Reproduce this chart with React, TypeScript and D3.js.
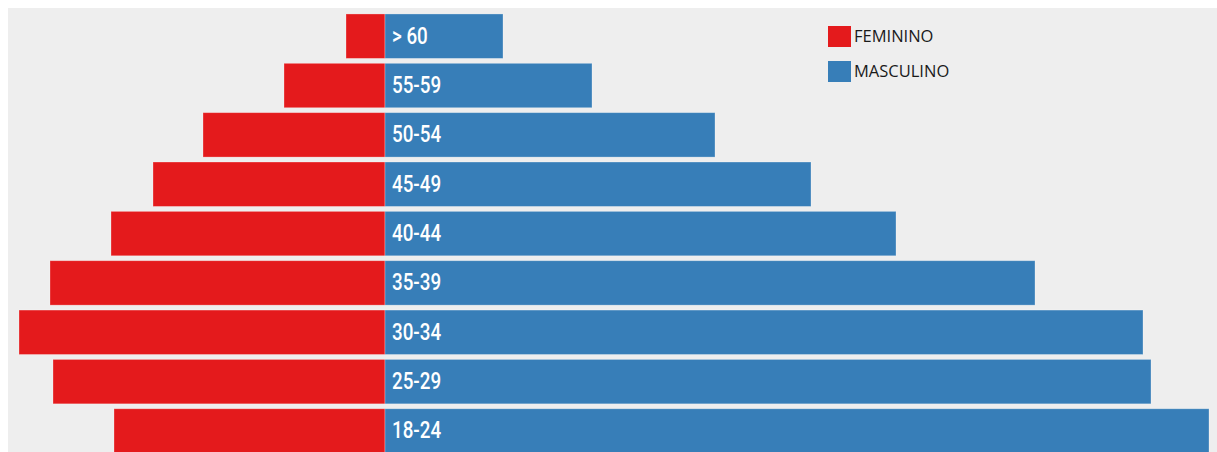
import React from "react";
import * as d3 from "d3";

const ageGroups = ["> 60", "55-59", "50-54", "45-49", "40-44", "35-39", "30-34", "25-29", "18-24"];
const femaleValues = [39, 101, 182, 232, 274, 335, 366, 332, 271];
const maleValues = [118, 207, 330, 426, 511, 650, 758, 766, 824];
const legendLabels = ["FEMININO", "MASCULINO"];
const colors = ["#e41a1c", "#377eb8"];

const W = 1217;
const H = 452;

export default function App() {
  const x = d3.scaleLinear().domain([-400, 850]).range([-15, 1235]);
  const y = d3
    .scaleBand<string>()
    .domain(ageGroups)
    .range([11.5, 11.5 + 49.35 * 9])
    .paddingInner(0.1)
    .paddingOuter(0.05);
  const bw = y.bandwidth();

  return (
    <div style={{ position: "fixed", left: 0, top: 0, width: W, height: H }}>
      <svg width={W} height={H} style={{ display: "block" }}>
        <defs>
          <clipPath id="plot">
            <rect x={8} y={8} width={W - 8} height={H - 8} />
          </clipPath>
        </defs>
        <rect x={0} y={0} width={W} height={H} fill="#ffffff" />
        <rect x={8} y={8} width={W - 8} height={H - 8} fill="#eeeeee" />
        <g clipPath="url(#plot)">
          {ageGroups.map((g, i) => {
            const yy = y(g) as number;
            return (
              <g key={g}>
                <rect
                  x={x(-femaleValues[i])}
                  y={yy}
                  width={x(0) - x(-femaleValues[i])}
                  height={bw}
                  fill={colors[0]}
                  stroke="rgba(255,255,255,0.35)"
                  strokeWidth={0.8}
                />
                <rect
                  x={x(0)}
                  y={yy}
                  width={x(maleValues[i]) - x(0)}
                  height={bw}
                  fill={colors[1]}
                  stroke="rgba(255,255,255,0.35)"
                  strokeWidth={0.8}
                />
                <text
                  transform={`translate(${x(0) + 7}, ${yy + bw / 2 + 7.5}) scale(0.8, 1)`}
                  fill="#ffffff"
                  fontFamily="Roboto, sans-serif"
                  fontWeight={500}
                  fontSize={23.5}
                >
                  {g}
                </text>
              </g>
            );
          })}
        </g>
        {legendLabels.map((l, i) => (
          <g key={l} transform={`translate(828, ${26 + i * 35})`}>
            <rect x={0} y={0} width={23} height={21} fill={colors[i]} />
            <text
              x={26}
              y={16}
              fill="#1a1a1a"
              fontFamily="'Open Sans', sans-serif"
              fontSize={16.5}
            >
              {l}
            </text>
          </g>
        ))}
      </svg>
    </div>
  );
}
